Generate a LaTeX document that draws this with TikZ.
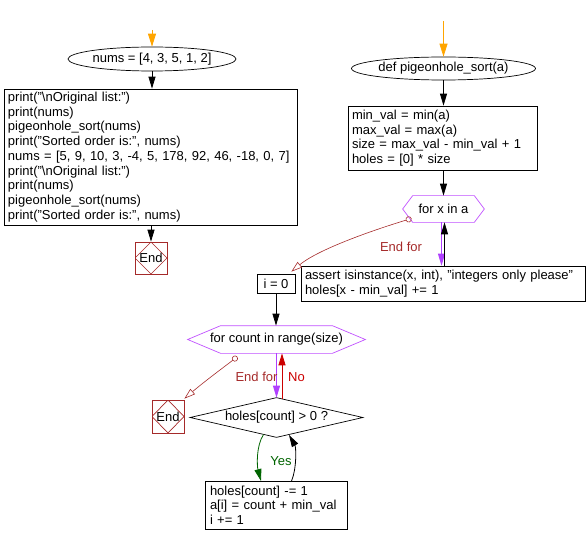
\documentclass[tikz,border=0pt]{standalone}
\usepackage{fontspec}
\setmainfont{Liberation Sans}
\usetikzlibrary{arrows.meta,shapes.geometric}
\definecolor{flowor}{HTML}{FFA500}
\definecolor{flowbr}{HTML}{A52A2A}
\definecolor{flowpu}{HTML}{C050FF}
\definecolor{flowpa}{HTML}{B040FF}
\definecolor{flowrd}{HTML}{CC0000}
\definecolor{flowgr}{HTML}{006400}
\tikzset{
  base/.style={font=\fontsize{13}{14.7}\selectfont, line width=0.7pt},
  codebox/.style={base, draw, rectangle, align=left, inner xsep=4pt, inner ysep=0pt},
  startell/.style={base, draw, ellipse, inner sep=0pt},
  endbox/.style={base, draw=flowbr, rectangle, inner sep=0pt, minimum width=32pt, minimum height=32pt,
    path picture={\draw[flowbr, line width=0.7pt] (path picture bounding box.north) -- (path picture bounding box.east) -- (path picture bounding box.south) -- (path picture bounding box.west) -- cycle;}},
  plain/.style={base, rectangle, inner sep=0pt},
  hexline/.style={draw=flowpu, line width=0.7pt},
  diamline/.style={draw=black, line width=0.7pt},
  tip/.style={-{Triangle[length=12pt,width=7pt]}},
  blk/.style={tip, line width=0.8pt, black},
  purp/.style={-{Triangle[length=12pt,width=7pt]}, line width=1pt, flowpa},
  orng/.style={-{Triangle[length=13pt,width=8pt]}, line width=0.8pt, flowor},
  redar/.style={-{Triangle[length=12pt,width=7pt]}, line width=0.8pt, flowrd},
  grnar/.style={-{Triangle[length=12pt,width=7pt]}, line width=0.8pt, flowgr},
  endfor/.style={{Circle[open,length=6pt,width=6pt]}-{Triangle[open,length=11pt,width=7pt]}, line width=0.6pt, flowbr},
  lbl/.style={font=\fontsize{13}{14.7}\selectfont, inner sep=0pt},
}
\begin{document}
\begin{tikzpicture}[x=1pt,y=-1pt]
\useasboundingbox (0,0) rectangle (588,545);

% left column
\coordinate (s1) at (152,30);
\node[startell, minimum width=139pt, minimum height=24pt] (e1) at (152,59) {nums = [4, 3, 5, 1, 2]};
\node[codebox, minimum width=293pt, minimum height=136pt, text width=285pt] (b1) at (150.5,157) {print("\textbackslash nOriginal list:")\\
print(nums)\\
pigeonhole\_sort(nums)\\
print("Sorted order is:", nums)\\
nums = [5, 9, 10, 3, -4, 5, 178, 92, 46, -18, 0, 7]\\
print("\textbackslash nOriginal list:")\\
print(nums)\\
pigeonhole\_sort(nums)\\
print("Sorted order is:", nums)};
\node[endbox] (end1) at (151,258) {End};

% right column
\coordinate (s2) at (443.5,21);
\node[startell, minimum width=143pt, minimum height=23pt] (e2) at (443.5,68.5) {def pigeonhole\_sort(a)};
\node[codebox, minimum width=189pt, minimum height=64pt, text width=181pt] (b2) at (442.5,138) {min\_val = min(a)\\
max\_val = max(a)\\
size = max\_val - min\_val + 1\\
holes = [0] * size};
\node[plain, minimum width=81pt, minimum height=26pt] (h1) at (443.5,209) {for x in a};
\draw[hexline] (h1.west) -- ([xshift=10pt]h1.north west) -- ([xshift=-10pt]h1.north east) -- (h1.east) -- ([xshift=-10pt]h1.south east) -- ([xshift=10pt]h1.south west) -- cycle;
\node[codebox, minimum width=284pt, minimum height=35pt, text width=276pt] (b3) at (443,283.5) {assert isinstance(x, int), "integers only please"\\
holes[x - min\_val] += 1};
\node[codebox, inner xsep=0pt, minimum width=38pt, minimum height=19pt] (i0) at (276,283.5) {i = 0};

\node[plain, minimum width=177pt, minimum height=27pt] (h2) at (276.5,339.5) {for count in range(size)};
\draw[hexline] (h2.west) -- ([xshift=33pt]h2.north west) -- ([xshift=-33pt]h2.north east) -- (h2.east) -- ([xshift=-33pt]h2.south east) -- ([xshift=33pt]h2.south west) -- cycle;

\node[plain, minimum width=172pt, minimum height=39pt] (d1) at (276.5,417.5) {holes[count] > 0 ?};
\draw[diamline] (d1.west) -- (d1.north) -- (d1.east) -- (d1.south) -- cycle;
\node[endbox, minimum height=33pt] (end2) at (168,416.5) {End};

\node[codebox, inner xsep=5pt, minimum width=142pt, minimum height=48pt, text width=132pt] (b4) at (276,505) {holes[count] -= 1\\
a[i] = count + min\_val\\
i += 1};

% connectors
\draw[orng] (s1) -- (e1.north);
\draw[orng] (s2) -- (e2.north);
\draw[blk] (e1.south) -- (b1.north -| e1.south);
\draw[blk] (b1.south -| end1.north) -- (end1.north);
\draw[blk] (e2.south) -- (b2.north -| e2.south);
\draw[blk] (b2.south -| h1.north) -- (h1.north);

\draw[purp] ([xshift=-2pt]h1.south) -- ([xshift=-2pt]h1.south |- b3.north);
\draw[blk] ([xshift=1pt]h1.south |- b3.north) -- ([xshift=1pt]h1.south);

\coordinate (c1) at (411.5,218.5);
\draw[endfor] (c1) .. controls (380,228) and (320,248) .. ([xshift=-4pt,yshift=2pt]i0.north east);
\node[lbl, text=flowbr] (l1) at (401,247) {End for};

\draw[blk] (i0.south) -- (i0.south |- h2.north);

\draw[purp] (h2.south) -- (d1.north);
\coordinate (r1) at (282,398.5);
\draw[redar] (r1) -- (r1 |- h2.south);
\node[lbl, text=flowbr] (l2) at (256.5,377) {End for};
\node[lbl, text=flowrd] (l3) at (296.5,377) {No};

\coordinate (c2) at (237.3,356.7);
\draw[endfor] (c2) .. controls (228,364) and (205,381) .. ([xshift=0pt,yshift=1pt]end2.north east);

\coordinate (y1) at (263.5,434.5);
\coordinate (y2) at (289,435);
\draw[grnar] (y1) .. controls (256,446) and (257,466) .. (261,481);
\draw[blk] (291.5,481) .. controls (297,468) and (296,447) .. (y2);
\node[lbl, text=flowgr] (l4) at (281,461) {Yes};
\end{tikzpicture}
\end{document}
